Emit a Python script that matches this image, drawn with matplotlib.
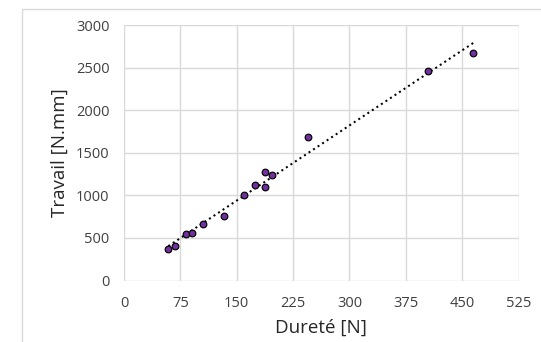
import matplotlib
matplotlib.use("Agg")
import matplotlib.pyplot as plt
import numpy as np
from matplotlib.patches import Rectangle

durete = [59, 68, 82, 91, 105, 133, 160, 174, 188, 188, 197, 245, 405, 464]
travail = [370, 405, 543, 562, 660, 758, 1005, 1126, 1279, 1102, 1236, 1683, 2458, 2670]
xticks = [0, 75, 150, 225, 300, 375, 450, 525]
yticks = [0, 500, 1000, 1500, 2000, 2500, 3000]

plt.rcParams['font.family'] = ['Open Sans', 'DejaVu Sans']

W, H = 541, 342
fig = plt.figure(figsize=(W/100, H/100), dpi=100)
L, R, T, B = 124, 518.5, 25.3, 280.5
ax = fig.add_axes([L/W, 1-B/H, (R-L)/W, (B-T)/H])

fig.patches.append(Rectangle((22.3/W, -0.1), 1.2, (1-9.3/H)+0.1, transform=fig.transFigure,
                             fill=False, edgecolor='#d9d9d9', linewidth=1.0))

x = np.array(durete, dtype=float)
y = np.array(travail, dtype=float)
a, b = np.polyfit(x, y, 1)
xl = np.array([x.min(), x.max() + 2])
ax.plot(xl, a*xl + b, linestyle=(0, (1, 1.7)), color='black', linewidth=1.45,
        dash_capstyle='butt', zorder=2)
ax.scatter(x, y, s=23, color='#7030A0', edgecolor='black', linewidth=0.85, zorder=3)

ax.set_xlim(0, 525)
ax.set_ylim(0, 3000)
ax.set_xticks(xticks)
ax.set_yticks(yticks)
ax.grid(True, color='#d9d9d9', linewidth=1.0)
ax.set_axisbelow(True)
for s in ax.spines.values():
    s.set_visible(False)
ax.tick_params(length=0, labelsize=10.5, colors='#404040')
ax.tick_params(axis='x', pad=11)
ax.tick_params(axis='y', pad=10.5)
ax.set_xlabel('Dureté [N]', fontsize=13.5, color='#262626', labelpad=6)
ax.set_ylabel('Travail [N.mm]', fontsize=13.5, color='#262626', labelpad=5)

fig.savefig('out.png', dpi=100)
